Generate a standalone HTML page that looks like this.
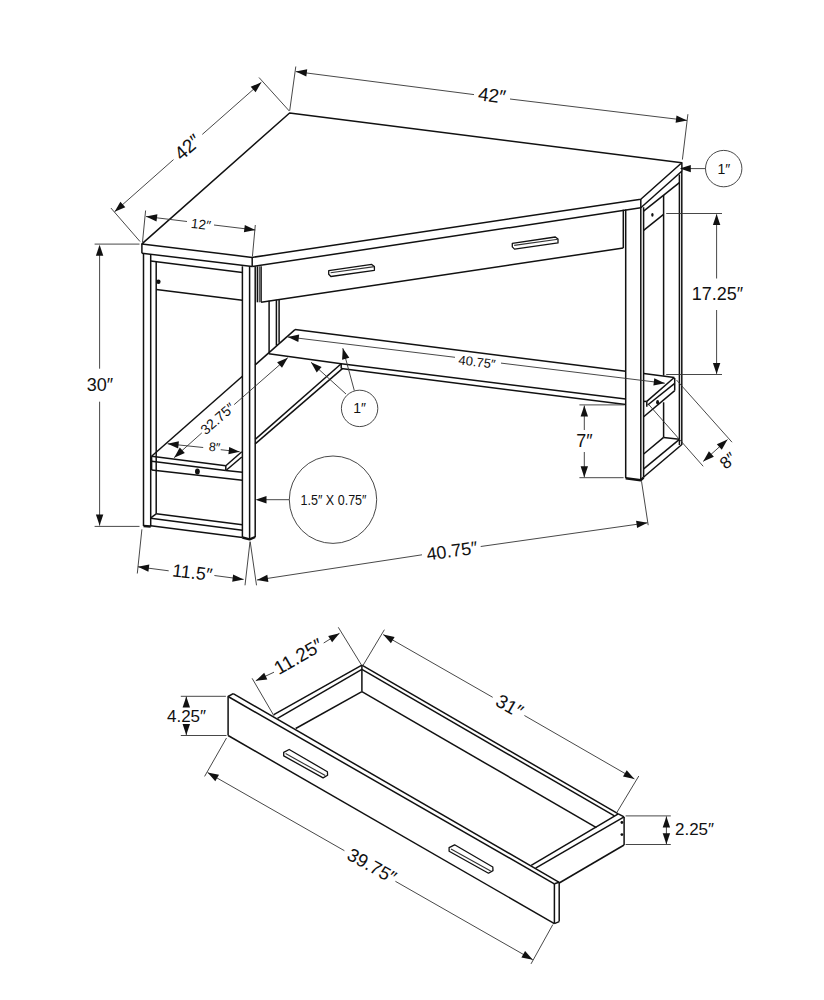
<!DOCTYPE html>
<html><head><meta charset="utf-8"><style>
html,body{margin:0;padding:0;background:#fff;}
svg{display:block;}
text{font-family:"Liberation Sans",sans-serif;fill:#111;}
</style></head><body>
<svg width="824" height="1000" viewBox="0 0 824 1000">
<rect width="824" height="1000" fill="#fff"/>
<polygon points="141.9,243.9 289.6,113.0 681.8,162.7 640.8,199.2 252.2,257.4" fill="none" stroke="#111" stroke-width="1.5" stroke-linejoin="round"/>
<line x1="141.9" y1="243.9" x2="141.9" y2="253.2" stroke="#111" stroke-width="1.5"/>
<line x1="141.9" y1="253.2" x2="252.2" y2="266.6" stroke="#111" stroke-width="1.5"/>
<line x1="252.2" y1="257.4" x2="252.2" y2="266.6" stroke="#111" stroke-width="1.5"/>
<line x1="252.2" y1="266.6" x2="640.8" y2="207.8" stroke="#111" stroke-width="1.5"/>
<line x1="640.8" y1="199.2" x2="640.8" y2="207.8" stroke="#111" stroke-width="1.5"/>
<line x1="640.8" y1="207.8" x2="682" y2="171.0" stroke="#111" stroke-width="1.5"/>
<line x1="681.8" y1="162.7" x2="682" y2="171.0" stroke="#111" stroke-width="1.5"/>
<line x1="143.5" y1="253.2" x2="143.5" y2="526" stroke="#111" stroke-width="1.5"/>
<line x1="150.7" y1="254" x2="150.7" y2="526.5" stroke="#111" stroke-width="1.5"/>
<line x1="156.2" y1="261.5" x2="156.2" y2="513.8" stroke="#111" stroke-width="1.5"/>
<line x1="143.5" y1="526" x2="150.7" y2="526.5" stroke="#111" stroke-width="2.6"/>
<line x1="150.7" y1="261" x2="242.4" y2="272.4" stroke="#111" stroke-width="1.5"/>
<line x1="156.2" y1="289.5" x2="242.4" y2="300.2" stroke="#111" stroke-width="1.5"/>
<circle cx="158.4" cy="281.8" r="2.2" fill="#111"/>
<line x1="242.4" y1="266.3" x2="242.4" y2="537.5" stroke="#111" stroke-width="1.5"/>
<line x1="249.6" y1="266.3" x2="249.6" y2="539.3" stroke="#111" stroke-width="1.5"/>
<line x1="255.2" y1="266.3" x2="255.2" y2="537" stroke="#111" stroke-width="1.5"/>
<polyline points="242.4,537.5 249.6,539.3 255.2,537" fill="none" stroke="#111" stroke-width="2.4" stroke-linejoin="round"/>
<line x1="156.2" y1="513.8" x2="242.4" y2="524.7" stroke="#111" stroke-width="1.5"/>
<line x1="150.7" y1="518.3" x2="242.4" y2="530.2" stroke="#111" stroke-width="1.5"/>
<line x1="150.7" y1="517.8" x2="156.2" y2="513.8" stroke="#111" stroke-width="1.5"/>
<line x1="150.7" y1="525.8" x2="242.4" y2="537.5" stroke="#111" stroke-width="1.5"/>
<line x1="151.6" y1="456.2" x2="225.8" y2="465.7" stroke="#111" stroke-width="1.5"/>
<line x1="151.6" y1="461.3" x2="225.8" y2="470.5" stroke="#111" stroke-width="1.5"/>
<line x1="151.6" y1="456.2" x2="151.6" y2="470" stroke="#111" stroke-width="1.5"/>
<line x1="225.8" y1="465.7" x2="225.8" y2="470.5" stroke="#111" stroke-width="1.5"/>
<line x1="225.8" y1="465.7" x2="241.8" y2="451.8" stroke="#111" stroke-width="1.5"/>
<line x1="226.5" y1="470" x2="241.8" y2="457" stroke="#111" stroke-width="1.5"/>
<line x1="225.8" y1="470.5" x2="242.4" y2="472.2" stroke="#111" stroke-width="1.5"/>
<line x1="151.6" y1="470" x2="242.4" y2="480.2" stroke="#111" stroke-width="1.5"/>
<ellipse cx="197.4" cy="471.4" rx="2.4" ry="3.0" fill="#111"/>
<line x1="151.6" y1="456.2" x2="242.4" y2="376.3" stroke="#111" stroke-width="1.5"/>
<line x1="255.2" y1="364.9" x2="295" y2="329.6" stroke="#111" stroke-width="1.5"/>
<line x1="255.2" y1="439.4" x2="341.2" y2="363.7" stroke="#111" stroke-width="1.5"/>
<line x1="255.2" y1="443.9" x2="342.4" y2="368.6" stroke="#111" stroke-width="1.5"/>
<line x1="257.4" y1="266.3" x2="257.4" y2="302.3" stroke="#111" stroke-width="1.5"/>
<line x1="259.3" y1="266.3" x2="259.3" y2="302.3" stroke="#333" stroke-width="1.0"/>
<line x1="261.1" y1="266.3" x2="261.1" y2="302.3" stroke="#111" stroke-width="1.5"/>
<line x1="261.1" y1="302.2" x2="623.3" y2="248" stroke="#111" stroke-width="1.5"/>
<line x1="623.3" y1="209.7" x2="623.3" y2="248" stroke="#111" stroke-width="1.5"/>
<line x1="625.7" y1="209.5" x2="625.7" y2="478.3" stroke="#111" stroke-width="1.5"/>
<polygon points="328.7,270.7 371.7,264.4 374.4,266.4 374.4,270.3 330.9,276.5 328.7,274.3" fill="none" stroke="#111" stroke-width="1.3" stroke-linejoin="round"/>
<line x1="330.6" y1="272.8" x2="374.4" y2="266.6" stroke="#333" stroke-width="1.1"/>
<polygon points="512.3,243.29999999999998 555.3,236.99999999999997 558.0,238.99999999999997 558.0,242.9 514.5,249.1 512.3,246.9" fill="none" stroke="#111" stroke-width="1.3" stroke-linejoin="round"/>
<line x1="514.2" y1="245.4" x2="558.0" y2="239.20000000000002" stroke="#333" stroke-width="1.1"/>
<line x1="269.1" y1="300.8" x2="269.1" y2="352.2" stroke="#111" stroke-width="1.5"/>
<line x1="276.4" y1="299.8" x2="276.4" y2="345.5" stroke="#111" stroke-width="1.5"/>
<line x1="279.1" y1="299.5" x2="279.1" y2="342.8" stroke="#111" stroke-width="1.5"/>
<line x1="295" y1="329.6" x2="625.7" y2="371.3" stroke="#111" stroke-width="1.5"/>
<polyline points="268.8,353.8 341.2,363.7 625.7,399" fill="none" stroke="#111" stroke-width="1.5" stroke-linejoin="round"/>
<line x1="341.2" y1="368.6" x2="625.7" y2="404.6" stroke="#111" stroke-width="1.5"/>
<line x1="341.2" y1="363.7" x2="341.2" y2="368.6" stroke="#111" stroke-width="1.5"/>
<line x1="640.8" y1="207" x2="640.8" y2="480.2" stroke="#111" stroke-width="1.5"/>
<line x1="643.6" y1="207.2" x2="643.6" y2="477.7" stroke="#111" stroke-width="1.5"/>
<polyline points="625.7,478.3 640.8,480.2 643.6,477.7" fill="none" stroke="#111" stroke-width="2.4" stroke-linejoin="round"/>
<line x1="643.6" y1="211.2" x2="679.4" y2="182.6" stroke="#111" stroke-width="1.5"/>
<line x1="643.6" y1="230.4" x2="663.6" y2="214.4" stroke="#111" stroke-width="1.5"/>
<line x1="663.6" y1="195" x2="663.6" y2="375.7" stroke="#111" stroke-width="1.5"/>
<line x1="663.6" y1="402.3" x2="663.6" y2="437.4" stroke="#111" stroke-width="1.5"/>
<line x1="679.4" y1="174.5" x2="679.4" y2="445" stroke="#111" stroke-width="1.5"/>
<line x1="681.8" y1="171" x2="681.8" y2="445" stroke="#111" stroke-width="1.5"/>
<ellipse cx="652.4" cy="214.8" rx="1.2" ry="1.9" fill="#111"/>
<line x1="643.7" y1="373.5" x2="674.3" y2="377.5" stroke="#111" stroke-width="1.5"/>
<line x1="646.8" y1="401.4" x2="674.3" y2="377.5" stroke="#111" stroke-width="1.5"/>
<line x1="647.7" y1="405" x2="674.7" y2="383.4" stroke="#111" stroke-width="1.5"/>
<line x1="674.7" y1="378" x2="674.7" y2="390.6" stroke="#111" stroke-width="1.5"/>
<line x1="643.7" y1="416.7" x2="674.7" y2="390.6" stroke="#111" stroke-width="1.5"/>
<line x1="643.7" y1="401.4" x2="646.8" y2="401.4" stroke="#111" stroke-width="1.5"/>
<line x1="646.8" y1="401.4" x2="646.8" y2="406.8" stroke="#111" stroke-width="1.5"/>
<ellipse cx="657.6" cy="402.3" rx="1.5" ry="2.3" fill="#111"/>
<line x1="643.7" y1="454" x2="663.6" y2="437.4" stroke="#111" stroke-width="1.5"/>
<line x1="663.6" y1="437.4" x2="679.4" y2="439.2" stroke="#111" stroke-width="1.5"/>
<line x1="643.7" y1="468.8" x2="679.4" y2="439.3" stroke="#111" stroke-width="1.5"/>
<line x1="643.7" y1="477" x2="681.6" y2="444.8" stroke="#111" stroke-width="1.5"/>
<line x1="110.9" y1="208" x2="140" y2="241.5" stroke="#333" stroke-width="0.9"/>
<line x1="259" y1="77.5" x2="289.3" y2="111" stroke="#333" stroke-width="0.9"/>
<line x1="114.6" y1="211.7" x2="173.5" y2="159.6" stroke="#333" stroke-width="0.9"/>
<line x1="202.3" y1="134.4" x2="261.4" y2="82.3" stroke="#333" stroke-width="0.9"/>
<polygon points="114.6,211.7 120.4,201.7 125.3,207.2" fill="#111"/>
<polygon points="261.4,82.3 255.6,92.3 250.7,86.8" fill="#111"/>
<text transform="translate(187.6,147.2) rotate(-41.4)" font-size="19" text-anchor="middle" dominant-baseline="central">42″</text>
<line x1="295.8" y1="66.5" x2="289.7" y2="110.7" stroke="#333" stroke-width="0.9"/>
<line x1="687.9" y1="114.2" x2="682.4" y2="159.6" stroke="#333" stroke-width="0.9"/>
<line x1="295.8" y1="71.6" x2="474" y2="94.6" stroke="#333" stroke-width="0.9"/>
<line x1="510" y1="99" x2="687" y2="120.4" stroke="#333" stroke-width="0.9"/>
<polygon points="295.8,71.6 307.2,69.3 306.3,76.6" fill="#111"/>
<polygon points="687.0,120.4 675.6,122.7 676.5,115.4" fill="#111"/>
<text transform="translate(492,95.5) rotate(6.9)" font-size="19" text-anchor="middle" dominant-baseline="central">42″</text>
<line x1="145.6" y1="210.5" x2="142.5" y2="242" stroke="#333" stroke-width="0.9"/>
<line x1="255.3" y1="225" x2="252.4" y2="256.6" stroke="#333" stroke-width="0.9"/>
<line x1="146" y1="216.5" x2="187" y2="221.5" stroke="#333" stroke-width="0.9"/>
<line x1="214" y1="225" x2="255.3" y2="230" stroke="#333" stroke-width="0.9"/>
<polygon points="146.0,216.5 157.4,214.2 156.5,221.5" fill="#111"/>
<polygon points="255.3,230.0 243.9,232.3 244.8,225.0" fill="#111"/>
<text transform="translate(200.9,224.6) rotate(7)" font-size="13.5" text-anchor="middle" dominant-baseline="central">12″</text>
<circle cx="723.7" cy="168.6" r="18.2" fill="none" stroke="#333" stroke-width="0.9"/>
<line x1="705.5" y1="168.6" x2="688" y2="168.6" stroke="#333" stroke-width="0.9"/>
<polygon points="679.8,168.6 690.8,164.9 690.8,172.3" fill="#111"/>
<text transform="translate(723.8,168.8) rotate(0)" font-size="14" text-anchor="middle" dominant-baseline="central">1″</text>
<line x1="666.2" y1="213.5" x2="722" y2="213.5" stroke="#333" stroke-width="0.9"/>
<line x1="666.2" y1="374.5" x2="722" y2="374.5" stroke="#333" stroke-width="0.9"/>
<line x1="716.6" y1="214.5" x2="716.6" y2="278.5" stroke="#333" stroke-width="0.9"/>
<line x1="716.6" y1="310" x2="716.6" y2="373.8" stroke="#333" stroke-width="0.9"/>
<polygon points="716.6,214.0 720.3,225.0 712.9,225.0" fill="#111"/>
<polygon points="716.6,374.0 712.9,363.0 720.3,363.0" fill="#111"/>
<text transform="translate(717.5,293.8) rotate(0)" font-size="18" text-anchor="middle" dominant-baseline="central">17.25″</text>
<line x1="287.8" y1="336.9" x2="455" y2="357.3" stroke="#333" stroke-width="0.9"/>
<line x1="501" y1="363.1" x2="664.8" y2="383.2" stroke="#333" stroke-width="0.9"/>
<polygon points="287.8,336.9 299.2,334.6 298.3,341.9" fill="#111"/>
<text transform="translate(477,362) rotate(7)" font-size="13" text-anchor="middle" dominant-baseline="central">40.75″</text>
<polygon points="664.8,383.2 653.4,385.6 654.3,378.2" fill="#111"/>
<circle cx="359.6" cy="408.4" r="18.2" fill="none" stroke="#333" stroke-width="0.9"/>
<line x1="354.3" y1="390.5" x2="342.8" y2="348.2" stroke="#333" stroke-width="0.9"/>
<polygon points="342.8,348.2 349.3,357.8 342.1,359.8" fill="#111"/>
<line x1="346" y1="394" x2="311" y2="362.3" stroke="#333" stroke-width="0.9"/>
<polygon points="311.0,362.3 321.6,366.9 316.7,372.4" fill="#111"/>
<text transform="translate(359.7,408.2) rotate(0)" font-size="14" text-anchor="middle" dominant-baseline="central">1″</text>
<line x1="174.1" y1="457.7" x2="201.8" y2="432.9" stroke="#333" stroke-width="0.9"/>
<line x1="234.2" y1="404.6" x2="287.8" y2="357.7" stroke="#333" stroke-width="0.9"/>
<polygon points="174.1,457.7 179.8,447.6 184.8,453.1" fill="#111"/>
<polygon points="287.8,357.7 282.0,367.7 277.1,362.2" fill="#111"/>
<text transform="translate(217.5,418.5) rotate(-41)" font-size="14" text-anchor="middle" dominant-baseline="central">32.75″</text>
<line x1="167.6" y1="443.8" x2="203.2" y2="447.5" stroke="#333" stroke-width="0.9"/>
<line x1="220.7" y1="449.7" x2="239.7" y2="451.8" stroke="#333" stroke-width="0.9"/>
<polygon points="167.6,443.8 178.9,441.3 178.2,448.6" fill="#111"/>
<polygon points="239.7,451.8 228.4,454.3 229.2,446.9" fill="#111"/>
<text transform="translate(214.5,447.4) rotate(6)" font-size="12.5" text-anchor="middle" dominant-baseline="central">8″</text>
<line x1="94.6" y1="526.4" x2="139.5" y2="526.4" stroke="#333" stroke-width="0.9"/>
<line x1="94.6" y1="244.1" x2="139.5" y2="244.1" stroke="#333" stroke-width="0.9"/>
<line x1="99.6" y1="248" x2="99.6" y2="368.7" stroke="#333" stroke-width="0.9"/>
<line x1="99.6" y1="401.7" x2="99.6" y2="525.6" stroke="#333" stroke-width="0.9"/>
<polygon points="99.6,244.8 103.3,255.8 95.9,255.8" fill="#111"/>
<polygon points="99.6,525.6 95.9,514.6 103.3,514.6" fill="#111"/>
<text transform="translate(100,384.8) rotate(0)" font-size="18" text-anchor="middle" dominant-baseline="central">30″</text>
<circle cx="333" cy="499.7" r="43.7" fill="none" stroke="#333" stroke-width="0.9"/>
<line x1="289.3" y1="499.7" x2="262" y2="499.7" stroke="#333" stroke-width="0.9"/>
<polygon points="255.5,499.7 266.5,496.0 266.5,503.4" fill="#111"/>
<text transform="translate(333.5,500.1) rotate(0) scale(0.865,1)" font-size="14.5" text-anchor="middle" dominant-baseline="central">1.5″ X 0.75″</text>
<line x1="141.9" y1="529.3" x2="137.3" y2="573.5" stroke="#333" stroke-width="0.9"/>
<line x1="250" y1="541.7" x2="245" y2="585.3" stroke="#333" stroke-width="0.9"/>
<line x1="137.9" y1="566.8" x2="168.7" y2="570.8" stroke="#333" stroke-width="0.9"/>
<line x1="214.4" y1="575.5" x2="243.6" y2="579.4" stroke="#333" stroke-width="0.9"/>
<polygon points="137.9,566.8 149.3,564.4 148.4,571.8" fill="#111"/>
<polygon points="243.6,579.4 232.2,581.8 233.1,574.4" fill="#111"/>
<text transform="translate(192.3,572.6) rotate(6.8)" font-size="18" text-anchor="middle" dominant-baseline="central">11.5″</text>
<line x1="250.2" y1="541.7" x2="256.5" y2="585.3" stroke="#333" stroke-width="0.9"/>
<line x1="257" y1="580" x2="422" y2="554.8" stroke="#333" stroke-width="0.9"/>
<line x1="480.7" y1="546.5" x2="647.5" y2="522.8" stroke="#333" stroke-width="0.9"/>
<polygon points="257.0,580.0 267.3,574.7 268.4,582.0" fill="#111"/>
<polygon points="647.5,522.8 637.1,528.0 636.1,520.7" fill="#111"/>
<line x1="641.5" y1="481.2" x2="648.2" y2="525.2" stroke="#333" stroke-width="0.9"/>
<text transform="translate(452,551) rotate(-8.1)" font-size="18" text-anchor="middle" dominant-baseline="central">40.75″</text>
<line x1="579.4" y1="404.9" x2="624.3" y2="404.9" stroke="#333" stroke-width="0.9"/>
<line x1="579.4" y1="477.7" x2="623.6" y2="477.7" stroke="#333" stroke-width="0.9"/>
<line x1="584.3" y1="405.6" x2="584.3" y2="430" stroke="#333" stroke-width="0.9"/>
<line x1="584.3" y1="452" x2="584.3" y2="477.2" stroke="#333" stroke-width="0.9"/>
<polygon points="584.3,405.6 588.0,416.6 580.6,416.6" fill="#111"/>
<polygon points="584.3,477.2 580.6,466.2 588.0,466.2" fill="#111"/>
<text transform="translate(584.5,440.8) rotate(0)" font-size="18" text-anchor="middle" dominant-baseline="central">7″</text>
<line x1="676.5" y1="380" x2="732" y2="442.2" stroke="#333" stroke-width="0.9"/>
<line x1="648.6" y1="404.4" x2="703.2" y2="466.3" stroke="#333" stroke-width="0.9"/>
<line x1="703.2" y1="461.4" x2="727.5" y2="439.6" stroke="#333" stroke-width="0.9"/>
<polygon points="703.2,461.4 708.9,451.3 713.9,456.8" fill="#111"/>
<polygon points="727.5,439.6 721.8,449.7 716.8,444.2" fill="#111"/>
<text transform="translate(728.2,460.8) rotate(-40)" font-size="17" text-anchor="middle" dominant-baseline="central">8″</text>
<polyline points="233.2,693.7 228.1,696.5 228.1,735.5" fill="none" stroke="#111" stroke-width="1.5" stroke-linejoin="round"/>
<line x1="233.2" y1="693.7" x2="559.2" y2="882.3" stroke="#111" stroke-width="1.5"/>
<line x1="228.1" y1="696.5" x2="554.3" y2="883.8" stroke="#111" stroke-width="1.5"/>
<line x1="228.1" y1="735.5" x2="554.4" y2="923.6" stroke="#111" stroke-width="1.5"/>
<line x1="554.4" y1="883.8" x2="554.4" y2="923.6" stroke="#111" stroke-width="1.5"/>
<line x1="559.2" y1="882.3" x2="559.2" y2="921.6" stroke="#111" stroke-width="1.5"/>
<line x1="554.4" y1="883.8" x2="559.2" y2="882.3" stroke="#111" stroke-width="1.5"/>
<line x1="554.4" y1="923.6" x2="559.2" y2="921.6" stroke="#111" stroke-width="1.5"/>
<line x1="273.8" y1="714.7" x2="361.9" y2="665.2" stroke="#111" stroke-width="1.5"/>
<line x1="277.5" y1="718.3" x2="361.9" y2="669.4" stroke="#111" stroke-width="1.5"/>
<line x1="295.7" y1="728.5" x2="361.9" y2="691.6" stroke="#111" stroke-width="1.5"/>
<line x1="361.9" y1="665.2" x2="361.9" y2="691.6" stroke="#111" stroke-width="1.5"/>
<line x1="361.9" y1="665.2" x2="618.3" y2="813.8" stroke="#111" stroke-width="1.5"/>
<line x1="361.9" y1="669.4" x2="614.4" y2="815.9" stroke="#111" stroke-width="1.5"/>
<line x1="361.9" y1="691.6" x2="596.4" y2="827.6" stroke="#111" stroke-width="1.5"/>
<line x1="531.2" y1="865.4" x2="618.3" y2="813.8" stroke="#111" stroke-width="1.5"/>
<line x1="535.6" y1="868.2" x2="624.1" y2="816.9" stroke="#111" stroke-width="1.5"/>
<line x1="559.2" y1="883.0" x2="624.1" y2="845" stroke="#111" stroke-width="1.5"/>
<line x1="618.3" y1="813.8" x2="624.1" y2="816.9" stroke="#111" stroke-width="1.5"/>
<line x1="624.1" y1="816.9" x2="624.1" y2="845" stroke="#111" stroke-width="1.5"/>
<circle cx="621.9" cy="822.5" r="1.4" fill="#111"/>
<circle cx="621.9" cy="834.6" r="1.4" fill="#111"/>
<polygon points="283.7,752.3 289.2,749.5 327.4,771.7 327.6,775.3 323.1,777.9 283.7,755.9" fill="none" stroke="#111" stroke-width="1.3" stroke-linejoin="round"/>
<line x1="285.6" y1="753.6" x2="325.3" y2="775.6" stroke="#333" stroke-width="1.1"/>
<polygon points="449.1,847.5999999999999 454.6,844.8 492.79999999999995,867.0 493.0,870.5999999999999 488.5,873.1999999999999 449.1,851.1999999999999" fill="none" stroke="#111" stroke-width="1.3" stroke-linejoin="round"/>
<line x1="451.0" y1="848.9" x2="490.70000000000005" y2="870.9" stroke="#333" stroke-width="1.1"/>
<line x1="252.1" y1="678.3" x2="274" y2="715.9" stroke="#333" stroke-width="0.9"/>
<line x1="338.3" y1="627.3" x2="361.4" y2="664.9" stroke="#333" stroke-width="0.9"/>
<line x1="255.8" y1="680.7" x2="274" y2="672.2" stroke="#333" stroke-width="0.9"/>
<line x1="323.7" y1="643" x2="339.5" y2="633.3" stroke="#333" stroke-width="0.9"/>
<polygon points="255.8,680.7 264.2,672.7 267.3,679.4" fill="#111"/>
<polygon points="339.5,633.3 332.1,642.2 328.2,635.9" fill="#111"/>
<text transform="translate(298.5,656.5) rotate(-30)" font-size="19" text-anchor="middle" dominant-baseline="central">11.25″</text>
<line x1="384.4" y1="629.7" x2="362.6" y2="666.1" stroke="#333" stroke-width="0.9"/>
<line x1="638.8" y1="776" x2="616.9" y2="812.4" stroke="#333" stroke-width="0.9"/>
<line x1="383.2" y1="634.6" x2="492.7" y2="697.3" stroke="#333" stroke-width="0.9"/>
<line x1="524.4" y1="715.5" x2="634.4" y2="778.9" stroke="#333" stroke-width="0.9"/>
<polygon points="383.2,634.6 394.6,636.9 390.9,643.3" fill="#111"/>
<polygon points="634.4,778.9 623.0,776.6 626.7,770.2" fill="#111"/>
<text transform="translate(509.5,706) rotate(30)" font-size="19" text-anchor="middle" dominant-baseline="central">31″</text>
<line x1="180.8" y1="696.3" x2="225.9" y2="696.3" stroke="#333" stroke-width="0.9"/>
<line x1="180.8" y1="735.5" x2="226.5" y2="735.5" stroke="#333" stroke-width="0.9"/>
<line x1="186.3" y1="696.5" x2="186.3" y2="706" stroke="#333" stroke-width="0.9"/>
<line x1="186.3" y1="725" x2="186.3" y2="735" stroke="#333" stroke-width="0.9"/>
<polygon points="186.3,696.5 190.0,707.5 182.6,707.5" fill="#111"/>
<polygon points="186.3,735.0 182.6,724.0 190.0,724.0" fill="#111"/>
<text transform="translate(186.5,716.3) rotate(0)" font-size="17" text-anchor="middle" dominant-baseline="central">4.25″</text>
<line x1="226.5" y1="738" x2="204.6" y2="776.4" stroke="#333" stroke-width="0.9"/>
<line x1="552.8" y1="924.6" x2="531" y2="963.9" stroke="#333" stroke-width="0.9"/>
<line x1="207.6" y1="772.6" x2="344.4" y2="850.7" stroke="#333" stroke-width="0.9"/>
<line x1="395.4" y1="881.3" x2="532.8" y2="959.8" stroke="#333" stroke-width="0.9"/>
<polygon points="207.6,772.6 219.0,774.8 215.3,781.3" fill="#111"/>
<polygon points="532.8,959.8 521.4,957.6 525.1,951.1" fill="#111"/>
<text transform="translate(372,865.8) rotate(29.4)" font-size="18.5" text-anchor="middle" dominant-baseline="central">39.75″</text>
<line x1="625.6" y1="815.9" x2="670.8" y2="815.9" stroke="#333" stroke-width="0.9"/>
<line x1="625.6" y1="844.5" x2="670.8" y2="844.5" stroke="#333" stroke-width="0.9"/>
<line x1="666.4" y1="816.3" x2="666.4" y2="844" stroke="#333" stroke-width="0.9"/>
<polygon points="666.4,816.6 670.1,827.6 662.7,827.6" fill="#111"/>
<polygon points="666.4,844.2 662.7,833.2 670.1,833.2" fill="#111"/>
<text transform="translate(694.5,829.5) rotate(0)" font-size="17" text-anchor="middle" dominant-baseline="central">2.25″</text>
</svg></body></html>
